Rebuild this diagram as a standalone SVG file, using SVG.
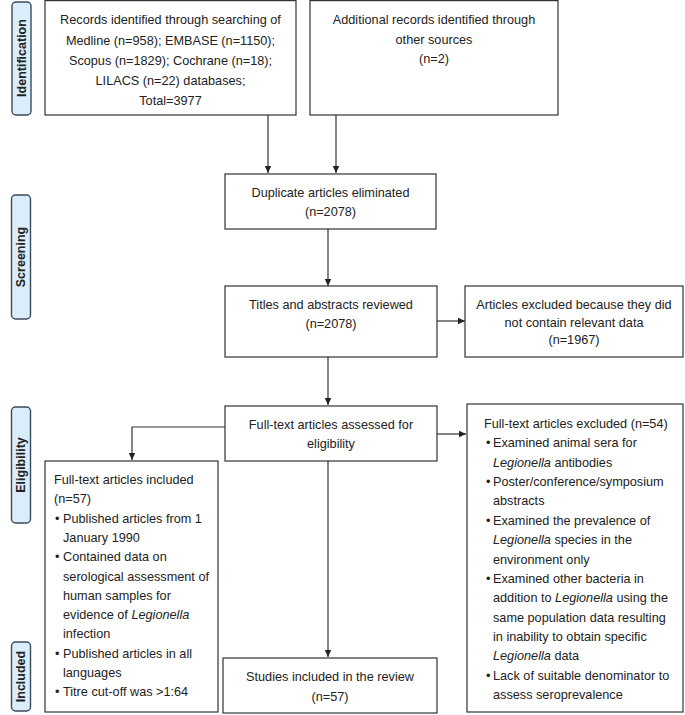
<svg xmlns="http://www.w3.org/2000/svg" width="685" height="715" viewBox="0 0 685 715">
<style>
.box{fill:#fff;stroke:#333;stroke-width:1.2}
.tab{fill:#d9eefa;stroke:#3b4a5a;stroke-width:1.4}
.t{font-family:"Liberation Sans",Arial,sans-serif;font-size:12.7px;fill:#222}
.c{text-anchor:middle}
.tl{font-family:"Liberation Sans",Arial,sans-serif;font-size:12.5px;font-weight:bold;fill:#222;text-anchor:middle}
.ln{fill:none;stroke:#333;stroke-width:1.2}
.i{font-style:italic}
</style>
<defs>
<marker id="ah" markerWidth="8" markerHeight="8" refX="7" refY="4" orient="auto" markerUnits="userSpaceOnUse">
<path d="M0,0.8 L7,4 L0,7.2 Z" fill="#222"/>
</marker>
</defs>
<rect width="685" height="715" fill="#fff"/>

<g id="tab-identification">
<rect class="tab" x="12" y="2" width="19" height="113" rx="4"/>
<text class="tl" transform="translate(25.5,58) rotate(-90)">Identification</text>
</g>
<g id="tab-screening">
<rect class="tab" x="11.5" y="195" width="19" height="124" rx="4"/>
<text class="tl" transform="translate(25,257) rotate(-90)">Screening</text>
</g>
<g id="tab-eligibility">
<rect class="tab" x="11.5" y="407" width="19" height="116" rx="4"/>
<text class="tl" transform="translate(25,465) rotate(-90)">Eligibility</text>
</g>
<g id="tab-included">
<rect class="tab" x="11.5" y="642" width="19" height="69" rx="4"/>
<text class="tl" transform="translate(25,676.5) rotate(-90)">Included</text>
</g>

<g id="connectors">
<line class="ln" x1="268" y1="115" x2="268" y2="173" marker-end="url(#ah)"/>
<line class="ln" x1="336" y1="115" x2="336" y2="173" marker-end="url(#ah)"/>
<line class="ln" x1="328" y1="229" x2="328" y2="286" marker-end="url(#ah)"/>
<line class="ln" x1="328" y1="357" x2="328" y2="405" marker-end="url(#ah)"/>
<line class="ln" x1="437" y1="321" x2="465" y2="321" marker-end="url(#ah)"/>
<line class="ln" x1="437" y1="434" x2="466" y2="434" marker-end="url(#ah)"/>
<polyline class="ln" points="225,427 132,427 132,460" marker-end="url(#ah)"/>
<line class="ln" x1="328" y1="461" x2="328" y2="657" marker-end="url(#ah)"/>
</g>

<g id="records-databases">
<rect class="box" x="45" y="0.6" width="251" height="114.4"/>
<text class="t c" x="170.5" y="24">Records identified through searching of</text>
<text class="t c" x="170.5" y="45">Medline (n=958); EMBASE (n=1150);</text>
<text class="t c" x="170.5" y="65">Scopus (n=1829); Cochrane (n=18);</text>
<text class="t c" x="170.5" y="85">LILACS (n=22) databases;</text>
<text class="t c" x="170.5" y="104.5">Total=3977</text>
</g>

<g id="records-other">
<rect class="box" x="310" y="0.6" width="248" height="114.4"/>
<text class="t c" x="434" y="24">Additional records identified through</text>
<text class="t c" x="434" y="43.5">other sources</text>
<text class="t c" x="434" y="63">(n=2)</text>
</g>

<g id="duplicates">
<rect class="box" x="225" y="174" width="211" height="55"/>
<text class="t c" x="330.5" y="197">Duplicate articles eliminated</text>
<text class="t c" x="330.5" y="216">(n=2078)</text>
</g>

<g id="titles">
<rect class="box" x="225" y="286" width="212" height="71"/>
<text class="t c" x="331" y="309">Titles and abstracts reviewed</text>
<text class="t c" x="331" y="327.5">(n=2078)</text>
</g>

<g id="excluded-titles">
<rect class="box" x="465" y="286" width="218" height="71"/>
<text class="t c" x="574" y="309">Articles excluded because they did</text>
<text class="t c" x="574" y="326.5">not contain relevant data</text>
<text class="t c" x="574" y="344">(n=1967)</text>
</g>

<g id="fulltext-assessed">
<rect class="box" x="225" y="406" width="212" height="55"/>
<text class="t c" x="331" y="428.5">Full-text articles assessed for</text>
<text class="t c" x="331" y="447.5">eligibility</text>
</g>

<g id="fulltext-included">
<rect class="box" x="45" y="461" width="173" height="251"/>
<text class="t" x="54" y="484">Full-text articles included</text>
<text class="t" x="54" y="503.3">(n=57)</text>
<text class="t" x="55" y="522.6">•</text><text class="t" x="63" y="522.6">Published articles from 1</text>
<text class="t" x="63" y="541.9">January 1990</text>
<text class="t" x="55" y="561.2">•</text><text class="t" x="63" y="561.2">Contained data on</text>
<text class="t" x="63" y="580.5">serological assessment of</text>
<text class="t" x="63" y="599.8">human samples for</text>
<text class="t" x="63" y="619.1">evidence of <tspan class="i">Legionella</tspan></text>
<text class="t" x="63" y="638.4">infection</text>
<text class="t" x="55" y="657.7">•</text><text class="t" x="63" y="657.7">Published articles in all</text>
<text class="t" x="63" y="677">languages</text>
<text class="t" x="55" y="696.3">•</text><text class="t" x="63" y="696.3">Titre cut-off was &gt;1:64</text>
</g>

<g id="fulltext-excluded">
<rect class="box" x="467" y="404" width="216" height="308"/>
<text class="t" x="484" y="428">Full-text articles excluded (n=54)</text>
<text class="t" x="486" y="447.4">•</text><text class="t" x="493" y="447.4">Examined animal sera for</text>
<text class="t" x="493" y="466.7"><tspan class="i">Legionella</tspan> antibodies</text>
<text class="t" x="486" y="486.1">•</text><text class="t" x="493" y="486.1">Poster/conference/symposium</text>
<text class="t" x="493" y="505.4">abstracts</text>
<text class="t" x="486" y="524.8">•</text><text class="t" x="493" y="524.8">Examined the prevalence of</text>
<text class="t" x="493" y="544.2"><tspan class="i">Legionella</tspan> species in the</text>
<text class="t" x="493" y="563.5">environment only</text>
<text class="t" x="486" y="582.9">•</text><text class="t" x="493" y="582.9">Examined other bacteria in</text>
<text class="t" x="493" y="602.2">addition to <tspan class="i">Legionella</tspan> using the</text>
<text class="t" x="493" y="621.6">same population data resulting</text>
<text class="t" x="493" y="641">in inability to obtain specific</text>
<text class="t" x="493" y="660.3"><tspan class="i">Legionella</tspan> data</text>
<text class="t" x="486" y="679.7">•</text><text class="t" x="493" y="679.7">Lack of suitable denominator to</text>
<text class="t" x="493" y="699">assess seroprevalence</text>
</g>

<g id="studies-included">
<rect class="box" x="223" y="658" width="214" height="55"/>
<text class="t c" x="330" y="681">Studies included in the review</text>
<text class="t c" x="330" y="701">(n=57)</text>
</g>
</svg>
